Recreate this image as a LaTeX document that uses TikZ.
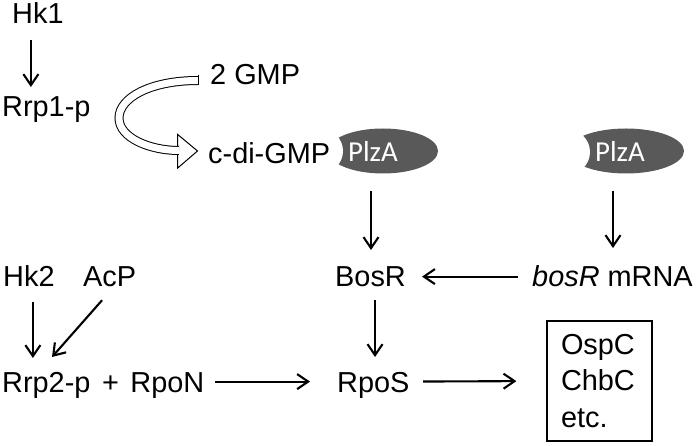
\documentclass[tikz,border=0pt]{standalone}
\usepackage{fontspec}
\setmainfont{Liberation Sans}
\newfontfamily\plzfont{Carlito}
\usetikzlibrary{arrows.meta,shapes.geometric}
\definecolor{plzgray}{RGB}{89,89,89}

\tikzset{
  txt/.style={anchor=base west, inner sep=0pt, font=\fontsize{29}{35}\selectfont,
    text height=20.8bp, text depth=0pt},
  arr/.style={-{Straight Barb[length=11bp,width=15bp]}, line width=2.1bp},
  plzshape/.style={ellipse, fill=plzgray, inner sep=0pt},
  plztxt/.style={text=white, inner sep=0pt, font=\plzfont\fontsize{29}{35}\selectfont},
}

\begin{document}
\begin{tikzpicture}[x=1bp,y=-1bp]
\useasboundingbox (0,0) rectangle (700,446);

% PlzA with the notch cut out
\node[plzshape, minimum width=110bp, minimum height=45bp] (plza1) at (383,151) {};
\fill[white] (321,151) circle [radius=22];
\node[plzshape, minimum width=116bp, minimum height=45bp] (plza2) at (626,151) {};
\fill[white] (567.6,152) circle [radius=22.4];
\node[plztxt] (plza1txt) at (373,151) {PlzA};
\node[plztxt] (plza2txt) at (620,151) {PlzA};

% top
\node[txt] (hk1) at (12,24) {Hk1};
\node[txt] (rrp1) at (2,117) {Rrp1-p};
\node[txt] (gmp) at (210,85) {2 GMP};
\node[txt] (cdigmp) at (208,164) {c-di-GMP};

% middle row
\node[txt] (hk2) at (3,287) {Hk2};
\node[txt] (acp) at (83,287) {AcP};
\node[txt] (bosr) at (335,287) {BosR};
\node[txt] (mrna) at (532,287) {\textit{bosR} mRNA};

% bottom row
\node[txt] (rrp2) at (2,392) {Rrp2-p\hspace{0.4em}+\hspace{0.4em}RpoN};
\node[txt] (rpos) at (337,392) {RpoS};
\node[draw, line width=1.2bp, minimum width=105bp, minimum height=120bp, inner xsep=14bp,
  text width=77bp, align=left, font=\fontsize{29}{36.5}\selectfont] (genes) at (599.5,381)
  {OspC\\ChbC\\etc.};

% hollow curved arrow 2 GMP -> c-di-GMP
\draw[line width=1bp, fill=white] (177.7,134.5) -- (197.5,151) -- (177.7,168) -- cycle;
\draw[double, double distance=7bp, line width=1bp]
  (198,80.5) .. controls (150,80.5) and (119,98) .. (119,118)
  .. controls (119,138) and (150,150.5) .. (179,150.5);
\draw[line width=1bp] (198,75.5) -- (198,85.5);

% connectors
\draw[arr, shorten <=16bp, shorten >=9bp] ([xshift=-7bp]hk1.south) -- ([xshift=-7bp]hk1.south |- rrp1.north);
\draw[arr, shorten <=17bp, shorten >=16bp] ([xshift=-12bp]plza1.south) -- ([xshift=-12bp]plza1.south |- bosr.north);
\draw[arr, shorten <=17bp, shorten >=18bp] ([xshift=-13bp]plza2.south) -- ([xshift=-13bp]plza2.south |- mrna.north);
\draw[arr, shorten <=14bp, shorten >=16bp] (mrna.west) -- (bosr.east);
\draw[arr, shorten <=13bp, shorten >=14bp] ([xshift=4.5bp]bosr.south) -- ([xshift=4.5bp]bosr.south |- rpos.north);
\draw[arr, shorten <=15bp, shorten >=13bp] ([xshift=4bp]hk2.south) -- ([xshift=4bp]hk2.south |- rrp2.north);
\draw[arr] ([xshift=-7.6bp,yshift=-13bp]acp.south) -- ([xshift=50bp,yshift=14bp]rrp2.north west);
\draw[arr, shorten <=10bp, shorten >=27bp] (rrp2.east) -- (rpos.west);
\draw[arr, shorten <=13.5bp, shorten >=30bp] (rpos.east) -- (genes.west);
\end{tikzpicture}
\end{document}
